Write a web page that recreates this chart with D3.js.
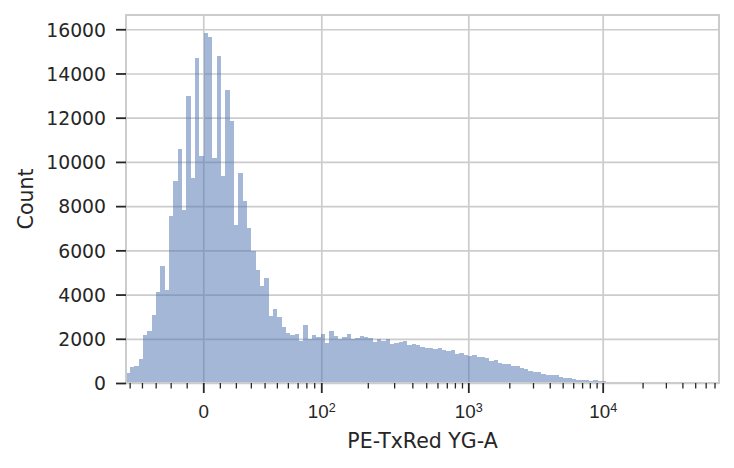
<!DOCTYPE html>
<html>
<head>
<meta charset="utf-8">
<script src="https://cdn.jsdelivr.net/npm/d3@7"></script>
<style>
  body { margin: 0; background: #fff; }
  svg { display: block; font-family: "DejaVu Sans", sans-serif; }
  .tick text { fill: #262626; }
</style>
</head>
<body>
<div id="chart"></div>
<script>
// Histogram of PE-TxRed YG-A on a logicle axis (seaborn-like look)

// bins are equal width in logicle space
const binStart = -53.4;      // lowest bin edge, data units
const binStep = 0.0328;      // bin width, logicle decades
const counts = [
  466, 710, 783, 1085, 2171, 2366, 3075, 4130, 5292, 4206,
  7567, 9136, 10583, 7825, 12980, 9287, 14699, 10267, 15844, 15663,
  10176, 14790, 9377, 13252, 11850, 7146, 9498, 8232, 6997, 5984,
  5111, 4387, 4749, 3030, 3347, 2985, 2533, 2275, 2185, 2230,
  1913, 2623, 1990, 2171, 2067, 2216, 1809, 2352, 2126, 1976,
  2080, 2216, 2006, 2035, 2126, 2080, 2035, 1854, 1990, 1900,
  1990, 1764, 1809, 1854, 1900, 1719, 1764, 1719, 1628, 1583,
  1583, 1538, 1583, 1493, 1447, 1493, 1312, 1357, 1266, 1221,
  1266, 1176, 1176, 1131, 995, 1040, 905, 859, 859, 769,
  769, 663, 618, 558, 513, 482, 422, 377, 347, 347,
  286, 241, 211, 181, 151, 121, 121, 106, 136, 106,
  75, 45, 30, 20, 12, 8
];

const xLimits = [-53.2, 75700];
const majorTicks = [0, 100, 1000, 10000];
const minorTicks = [
  -50, -40, -30, -20, -10,
  10, 20, 30, 40, 50, 60, 70, 80, 90,
  200, 300, 400, 500, 600, 700, 800, 900,
  2000, 3000, 4000, 5000, 6000, 7000, 8000, 9000,
  20000, 30000, 40000, 50000, 60000, 70000, 80000, 90000
];
const yTicks = [0, 2000, 4000, 6000, 8000, 10000, 12000, 14000, 16000];
const yMax = 16645;
const xTitle = "PE-TxRed YG-A";
const yTitle = "Count";

// logicle shape parameters
const P = 2.67, C = 9.376;

// decades -> data value
function logicleInverse(z) {
  const a = Math.abs(z);
  const v = C * (Math.pow(10, a) - P * P * Math.pow(10, -a / P) + P * P - 1);
  return z < 0 ? -v : v;
}

// data value -> decades (bisection, function is monotone)
function logicle(v) {
  const a = Math.abs(v);
  let lo = 0, hi = 10;
  for (let k = 0; k < 60; k++) {
    const mid = (lo + hi) / 2;
    if (logicleInverse(mid) < a) lo = mid; else hi = mid;
  }
  const z = (lo + hi) / 2;
  return v < 0 ? -z : z;
}

const width = 734, height = 468;
const margin = { top: 15, right: 15, bottom: 85, left: 126 };
const innerW = width - margin.left - margin.right;
const innerH = height - margin.top - margin.bottom;

const tickFont = 18.8, labelFont = 20.5;
const ink = "#262626", gridColor = "#cccccc";

const svg = d3.select("#chart").append("svg")
  .attr("width", width)
  .attr("height", height);

const plot = svg.append("g").attr("transform", `translate(${margin.left},${margin.top})`);

const x = d3.scaleLinear()
  .domain([logicle(xLimits[0]), logicle(xLimits[1])])
  .range([0, innerW]);
const y = d3.scaleLinear().domain([0, yMax]).range([innerH, 0]);

// grid first (axis below)
plot.append("g")
  .attr("transform", `translate(0,${innerH})`)
  .call(d3.axisBottom(x).tickValues(majorTicks.map(logicle)).tickSize(-innerH).tickFormat(""))
  .call(g => g.select(".domain").remove())
  .call(g => g.selectAll("line").attr("stroke", gridColor).attr("stroke-width", 1.7));

plot.append("g")
  .call(d3.axisLeft(y).tickValues(yTicks).tickSize(-innerW).tickFormat(""))
  .call(g => g.select(".domain").remove())
  .call(g => g.selectAll("line").attr("stroke", gridColor).attr("stroke-width", 1.7));

// bars
plot.append("clipPath").attr("id", "clip")
  .append("rect").attr("width", innerW).attr("height", innerH);

const z0 = logicle(binStart);
const bins = counts.map((c, i) => ({ lo: z0 + i * binStep, hi: z0 + (i + 1) * binStep, count: c }));

plot.append("g")
  .attr("clip-path", "url(#clip)")
  .attr("opacity", 0.5)
  .selectAll("rect")
  .data(bins)
  .join("rect")
  .attr("x", d => x(d.lo))
  .attr("width", d => x(d.hi) - x(d.lo))
  .attr("y", d => y(d.count))
  .attr("height", d => y(0) - y(d.count))
  .attr("fill", "#4c72b0")
  .attr("shape-rendering", "crispEdges");

// spines
plot.append("rect")
  .attr("width", innerW)
  .attr("height", innerH)
  .attr("fill", "none")
  .attr("stroke", gridColor)
  .attr("stroke-width", 2);

// minor x ticks
const zLo = x.domain()[0], zHi = x.domain()[1];
plot.append("g")
  .attr("transform", `translate(0,${innerH})`)
  .call(d3.axisBottom(x)
    .tickValues(minorTicks.map(logicle).filter(z => z >= zLo && z <= zHi))
    .tickSize(5.5)
    .tickFormat(""))
  .call(g => g.select(".domain").remove())
  .call(g => g.selectAll("line").attr("stroke", ink).attr("stroke-width", 1.3));

// major x ticks with 10^n labels
const xAxis = plot.append("g")
  .attr("transform", `translate(0,${innerH})`)
  .call(d3.axisBottom(x).tickValues(majorTicks.map(logicle)).tickSize(10).tickFormat(""))
  .call(g => g.select(".domain").remove())
  .call(g => g.selectAll("line").attr("stroke", ink).attr("stroke-width", 1.8));

xAxis.selectAll(".tick").each(function (z, i) {
  const v = majorTicks[i];
  const t = d3.select(this).append("text")
    .attr("y", 35)
    .attr("text-anchor", "middle")
    .attr("fill", ink)
    .attr("font-size", tickFont);
  if (v === 0) {
    t.text("0");
  } else {
    t.append("tspan").text("10");
    t.append("tspan")
      .attr("dy", -6.5)
      .attr("font-size", tickFont * 0.67)
      .text(String(Math.round(Math.log10(v))));
  }
});

// y axis
plot.append("g")
  .call(d3.axisLeft(y).tickValues(yTicks).tickSize(10).tickPadding(10).tickFormat(d3.format("d")))
  .call(g => g.select(".domain").remove())
  .call(g => g.selectAll("line").attr("stroke", ink).attr("stroke-width", 1.8))
  .call(g => g.selectAll("text")
    .attr("font-size", tickFont)
    .attr("font-family", "DejaVu Sans")
    .attr("dy", "0.36em"));

// axis titles
svg.append("text")
  .attr("x", margin.left + innerW / 2)
  .attr("y", 448)
  .attr("text-anchor", "middle")
  .attr("fill", ink)
  .attr("font-size", labelFont)
  .text(xTitle);

svg.append("text")
  .attr("transform", `translate(33,${margin.top + innerH / 2}) rotate(-90)`)
  .attr("text-anchor", "middle")
  .attr("fill", ink)
  .attr("font-size", labelFont)
  .text(yTitle);
</script>
</body>
</html>
